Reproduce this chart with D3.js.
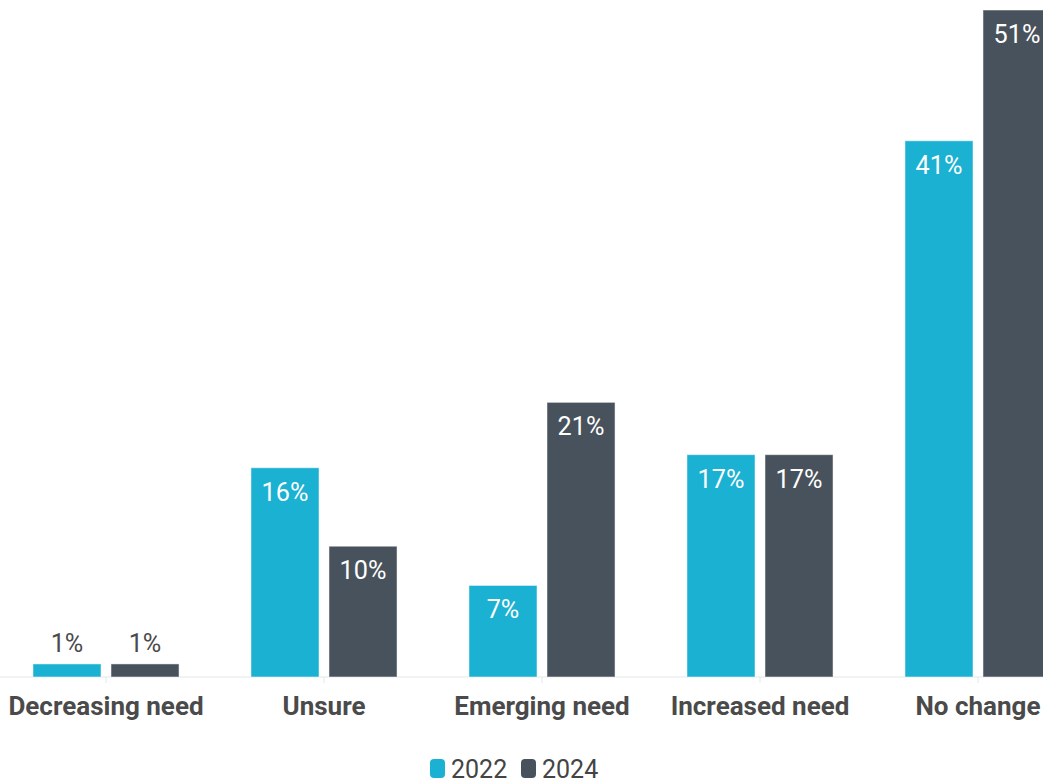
<!DOCTYPE html>
<html>
<head>
<meta charset="utf-8">
<script src="https://cdn.jsdelivr.net/npm/d3@7/dist/d3.min.js"></script>
<style>
  html, body { margin: 0; padding: 0; background: #fff; }
  svg { display: block; font-family: Roboto, "Noto Sans", sans-serif; }
</style>
</head>
<body>
<div id="chart"></div>
<script>
// Survey response categories and share of respondents (%) per year
const categories = ["Decreasing need", "Unsure", "Emerging need", "Increased need", "No change"];
const years = ["2022", "2024"];
const values2022 = [1, 16, 7, 17, 41];
const values2024 = [1, 10, 21, 17, 51];
const colors = ["#1bb1d2", "#48525c"];

const width = 1043, height = 783;
const baseY = 677, topY = 10;

const svg = d3.select("#chart").append("svg")
  .attr("width", width).attr("height", height);

const x0 = d3.scaleBand().domain(categories).range([-3, 1087])
  .paddingInner(0.33).paddingOuter(0.165);
const x1 = d3.scaleBand().domain(years).range([0, x0.bandwidth()]).paddingInner(0.128);
const y = d3.scaleLinear().domain([0, 51]).range([baseY, topY]);
const color = d3.scaleOrdinal().domain(years).range(colors);

const rows = categories.map((c, i) => ({
  category: c,
  items: [
    { year: "2022", value: values2022[i] },
    { year: "2024", value: values2024[i] }
  ]
}));

// horizontally squeezed text around a centre x
const squeeze = (cx, k) => `translate(${cx},0) scale(${k},1) translate(${-cx},0)`;

// baseline axis with ticks at the group centres
const axis = d3.axisBottom(x0).tickSize(6).tickFormat("");
const ax = svg.append("g").attr("transform", `translate(0,${baseY})`).call(axis);
ax.select(".domain").attr("stroke", "#e4e6e8").attr("d", `M0,0H${width}`);
ax.selectAll(".tick line").attr("stroke", "#e4e6e8");

// category labels
svg.append("g").selectAll("text").data(categories).join("text")
  .attr("x", d => x0(d) + x0.bandwidth() / 2)
  .attr("y", 715)
  .attr("text-anchor", "middle")
  .attr("font-size", 26)
  .attr("font-weight", 700)
  .attr("fill", "#4a4a4a")
  .attr("transform", d => squeeze(x0(d) + x0.bandwidth() / 2, 1.0))
  .text(d => d);

const groups = svg.append("g").selectAll("g").data(rows).join("g")
  .attr("transform", d => `translate(${x0(d.category)},0)`);

groups.selectAll("rect").data(d => d.items).join("rect")
  .attr("x", d => x1(d.year))
  .attr("y", d => y(d.value))
  .attr("width", x1.bandwidth())
  .attr("height", d => baseY - y(d.value))
  .attr("fill", d => color(d.year))
  .attr("stroke", "#ffffff")
  .attr("stroke-opacity", 0.5)
  .attr("stroke-width", 1);

// value labels: inside the bar when tall enough, otherwise above it
groups.selectAll("text").data(d => d.items).join("text")
  .attr("x", d => x1(d.year) + x1.bandwidth() / 2)
  .attr("y", d => (baseY - y(d.value)) > 40 ? y(d.value) + 33 : y(d.value) - 12)
  .attr("text-anchor", "middle")
  .attr("font-size", 26)
  .attr("fill", d => (baseY - y(d.value)) > 40 ? "#ffffff" : "#4a4a4a")
  .attr("transform", d => squeeze(x1(d.year) + x1.bandwidth() / 2, 0.97))
  .text(d => d.value + "%");

// legend
const legendItems = [
  { year: "2022", x: 430 },
  { year: "2024", x: 521 }
];
const lg = svg.append("g").selectAll("g").data(legendItems).join("g")
  .attr("transform", d => `translate(${d.x},759)`);
lg.append("rect")
  .attr("width", 15).attr("height", 19).attr("rx", 4)
  .attr("fill", d => color(d.year));
lg.append("text")
  .attr("x", 21).attr("y", 19)
  .attr("font-size", 25)
  .attr("fill", "#444")
  .attr("transform", squeeze(21, 1.0))
  .text(d => d.year);
</script>
</body>
</html>
